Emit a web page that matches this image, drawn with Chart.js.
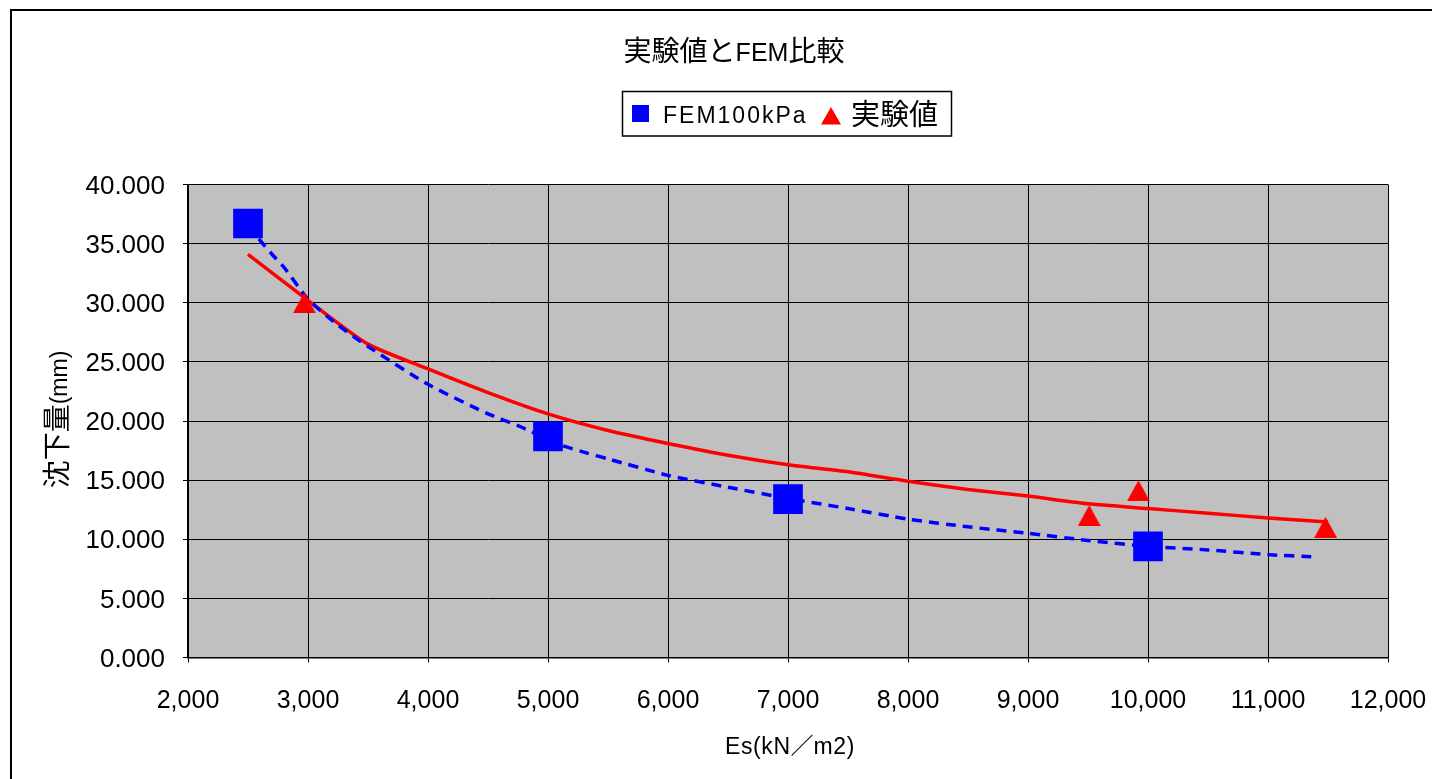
<!DOCTYPE html>
<html lang="ja">
<head>
<meta charset="utf-8">
<title>実験値とFEM比較</title>
<script src="https://cdn.jsdelivr.net/npm/chart.js@4/dist/chart.umd.min.js"></script>
<style>
  html, body { margin: 0; padding: 0; background: #ffffff; }
  canvas { display: block; }
</style>
</head>
<body>
<canvas id="chart" width="1432" height="779"></canvas>
<script>
// FEM analysis (load 100 kPa): settlement for each deformation modulus
const femEs = [2500, 5000, 7000, 10000];
const femSettlement = [36.7, 18.7, 13.4, 9.4];

// Measured settlements
const expEs = [2970, 9510, 9920, 11480];
const expSettlement = [30.0, 12.0, 14.1, 11.0];

// Approximation curve through the FEM results (dashed)
const femCurveEs = [2590, 2700, 2800, 3000, 3250, 3500, 4000, 4500, 4750, 5100, 5320, 5500, 6000, 6500, 7000, 7500, 8000, 8500, 9000, 9500, 10000, 10500, 11000, 11400];
const femCurveSettlement = [35.4, 34.1, 33.0, 30.3, 28.1, 26.3, 23.1, 20.6, 19.6, 18.0, 17.3, 16.8, 15.4, 14.4, 13.45, 12.6, 11.7, 11.05, 10.5, 9.9, 9.4, 9.1, 8.7, 8.5];

// Approximation curve through the measured values (solid)
const expCurveEs = [2500, 3000, 3500, 4000, 4500, 5000, 5500, 6000, 6500, 7000, 7500, 8000, 8500, 9000, 9500, 10000, 10500, 11000, 11500];
const expCurveSettlement = [34.1, 30.2, 26.5, 24.4, 22.4, 20.6, 19.2, 18.1, 17.1, 16.3, 15.7, 14.9, 14.2, 13.65, 13.0, 12.6, 12.2, 11.8, 11.45];

// Axis tick labels
const xTickValues = [2000, 3000, 4000, 5000, 6000, 7000, 8000, 9000, 10000, 11000, 12000];
const xTickLabels = ['2,000', '3,000', '4,000', '5,000', '6,000', '7,000', '8,000', '9,000', '10,000', '11,000', '12,000'];
const yTickValues = [0, 5, 10, 15, 20, 25, 30, 35, 40];
const yTickLabels = ['0.000', '5.000', '10.000', '15.000', '20.000', '25.000', '30.000', '35.000', '40.000'];

const titleParts = [['実験値と', 'cjk'], ['FEM', 'latin'], ['比較', 'cjk']];
const seriesNames = ['FEM100kPa', '実験値'];
const yTitleParts = [['沈下量', 'cjk'], ['(mm)', 'latin']];
const xTitleParts = [['Es(kN', 'latin'], ['／', 'cjk'], ['m2)', 'latin']];

const BLUE = '#0000FF';
const RED = '#FF0000';
const LATIN = '"Liberation Sans", Arial, sans-serif';
const CJK = '"Noto Sans CJK JP", "Noto Sans CJK SC", sans-serif';

const toPoints = (xs, ys) => xs.map((x, i) => ({ x: x, y: ys[i] }));

// Up-pointing triangle marker, centred on its bounding box
function triangleMarker(w, h, color) {
  const c = document.createElement('canvas');
  c.width = w; c.height = h;
  const g = c.getContext('2d');
  g.fillStyle = color;
  g.beginPath();
  g.moveTo(w / 2, 0);
  g.lineTo(w, h);
  g.lineTo(0, h);
  g.closePath();
  g.fill();
  return c;
}
const triangle = triangleMarker(23, 21, RED);

// Draws a run of text pieces that mix Latin and CJK fonts
function partsWidth(ctx, parts, sizes) {
  let w = 0;
  parts.forEach(([t, kind]) => {
    ctx.font = sizes[kind] + 'px ' + (kind === 'cjk' ? CJK : LATIN);
    ctx.letterSpacing = (kind === 'latin' ? (sizes.spacing || 0) : 0) + 'px';
    w += ctx.measureText(t).width;
  });
  ctx.letterSpacing = '0px';
  return w;
}
function drawParts(ctx, parts, sizes, x, y) {
  ctx.textAlign = 'left';
  ctx.textBaseline = 'alphabetic';
  parts.forEach(([t, kind]) => {
    ctx.font = sizes[kind] + 'px ' + (kind === 'cjk' ? CJK : LATIN);
    ctx.letterSpacing = (kind === 'latin' ? (sizes.spacing || 0) : 0) + 'px';
    ctx.fillText(t, x, y);
    x += ctx.measureText(t).width;
  });
  ctx.letterSpacing = '0px';
}

const decorations = {
  id: 'decorations',
  beforeDraw(chart) {
    const ctx = chart.ctx;
    const a = chart.chartArea;
    ctx.save();
    ctx.fillStyle = '#ffffff';
    ctx.fillRect(0, 0, chart.width, chart.height);
    // outer frame
    ctx.strokeStyle = '#000000';
    ctx.lineWidth = 2;
    ctx.beginPath();
    ctx.moveTo(11, chart.height + 5);
    ctx.lineTo(11, 10);
    ctx.lineTo(chart.width + 5, 10);
    ctx.stroke();
    // plot area
    ctx.fillStyle = '#C0C0C0';
    ctx.fillRect(a.left, a.top, a.right - a.left, a.bottom - a.top);
    ctx.restore();
  },
  afterDraw(chart) {
    const ctx = chart.ctx;
    ctx.save();
    ctx.fillStyle = '#000000';

    // title
    const tSizes = { cjk: 28, latin: 25 };
    const tw = partsWidth(ctx, titleParts, tSizes);
    drawParts(ctx, titleParts, tSizes, 734 - tw / 2, 60.5);

    // legend
    ctx.strokeStyle = '#000000';
    ctx.lineWidth = 1.5;
    ctx.strokeRect(622.5, 91.5, 329, 44.5);
    ctx.fillStyle = BLUE;
    ctx.fillRect(632, 105, 17, 17);
    ctx.fillStyle = '#000000';
    ctx.font = '23px ' + LATIN;
    ctx.letterSpacing = '2px';
    ctx.textBaseline = 'alphabetic';
    ctx.fillText(seriesNames[0], 663, 122.5);
    ctx.letterSpacing = '0px';
    ctx.fillStyle = RED;
    ctx.beginPath();
    ctx.moveTo(831, 107);
    ctx.lineTo(841, 124.5);
    ctx.lineTo(821, 124.5);
    ctx.closePath();
    ctx.fill();
    ctx.fillStyle = '#000000';
    ctx.font = '29px ' + CJK;
    ctx.fillText(seriesNames[1], 851, 125);

    // y-axis title (rotated)
    const ySizes = { cjk: 28, latin: 23 };
    const yw = partsWidth(ctx, yTitleParts, ySizes);
    ctx.save();
    ctx.translate(56.5, 419.5);
    ctx.rotate(-Math.PI / 2);
    drawParts(ctx, yTitleParts, ySizes, -yw / 2, 10);
    ctx.restore();

    // x-axis title
    const xSizes = { cjk: 23, latin: 23, spacing: 0.6 };
    const xw = partsWidth(ctx, xTitleParts, xSizes);
    drawParts(ctx, xTitleParts, xSizes, 790 - xw / 2, 754);

    ctx.restore();
  }
};

new Chart(document.getElementById('chart'), {
  type: 'scatter',
  data: {
    datasets: [
      {
        label: seriesNames[0],
        data: toPoints(femEs, femSettlement),
        pointStyle: 'rect',
        pointRadius: 21,
        backgroundColor: BLUE,
        borderColor: BLUE,
        borderWidth: 0,
        showLine: false,
        order: 0
      },
      {
        label: seriesNames[1],
        data: toPoints(expEs, expSettlement),
        pointStyle: triangle,
        pointRadius: 12,
        backgroundColor: RED,
        borderColor: RED,
        borderWidth: 0,
        showLine: false,
        order: 0
      },
      {
        label: 'FEM trend',
        data: toPoints(femCurveEs, femCurveSettlement),
        showLine: true,
        borderColor: BLUE,
        borderWidth: 3.5,
        borderDash: [10, 7],
        pointRadius: 0,
        tension: 0.2,
        fill: false,
        order: 1
      },
      {
        label: 'exp trend',
        data: toPoints(expCurveEs, expCurveSettlement),
        showLine: true,
        borderColor: RED,
        borderWidth: 3.5,
        pointRadius: 0,
        tension: 0.2,
        fill: false,
        order: 1
      }
    ]
  },
  options: {
    responsive: false,
    devicePixelRatio: 1,
    animation: false,
    events: [],
    layout: { padding: { left: 0, top: 184.5, right: 44, bottom: 0 } },
    plugins: {
      legend: { display: false },
      title: { display: false },
      tooltip: { enabled: false }
    },
    scales: {
      x: {
        type: 'linear',
        min: 2000,
        max: 12000,
        afterBuildTicks(scale) { scale.ticks = xTickValues.map(v => ({ value: v })); },
        afterFit(scale) {
          scale.height = 121.5;
          scale.paddingLeft = 0;
          scale.paddingRight = 0;
        },
        ticks: {
          callback: (v) => xTickLabels[xTickValues.indexOf(v)],
          color: '#000000',
          font: { family: LATIN, size: 25 },
          padding: 24,
          maxRotation: 0,
          autoSkip: false
        },
        grid: { color: '#000000', lineWidth: 1, tickLength: 5, drawTicks: true },
        border: { display: true, color: '#000000', width: 1.5 }
      },
      y: {
        type: 'linear',
        min: 0,
        max: 40,
        afterBuildTicks(scale) { scale.ticks = yTickValues.map(v => ({ value: v })); },
        afterFit(scale) {
          scale.width = 188;
          scale.paddingTop = 0;
          scale.paddingBottom = 0;
        },
        ticks: {
          callback: (v) => yTickLabels[yTickValues.indexOf(v)],
          color: '#000000',
          font: { family: LATIN, size: 26 },
          padding: 18,
          labelOffset: 2,
          autoSkip: false
        },
        grid: { color: '#000000', lineWidth: 1, tickLength: 5, drawTicks: true },
        border: { display: true, color: '#000000', width: 1.5 }
      }
    }
  },
  plugins: [decorations]
});
</script>
</body>
</html>
